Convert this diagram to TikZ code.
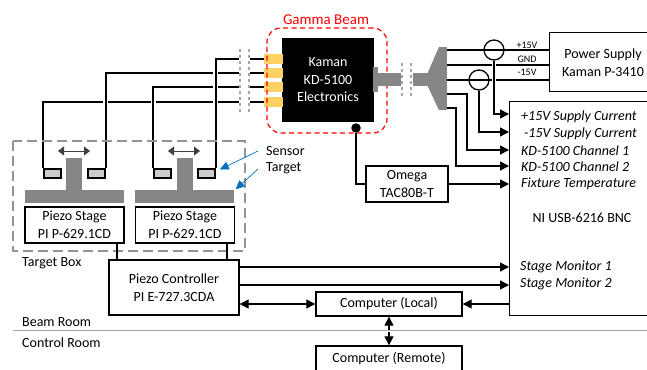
\documentclass[tikz,border=0pt]{standalone}
\usepackage{fontspec}
\setmainfont{Carlito}
\usetikzlibrary{positioning, arrows.meta, shapes.geometric, calc}
\definecolor{padorange}{HTML}{FFD163}
\definecolor{pointerblue}{HTML}{0070C0}
\begin{document}
\begin{tikzpicture}[
    x=1pt, y=-1pt,
    node distance=11pt,
    box/.style={rectangle, draw=black, line width=1.4pt, fill=white, inner sep=0pt, align=center, font=\fontsize{14}{17.5}\selectfont},
    stagebox/.style={box, minimum width=99pt, minimum height=36pt},
    plate/.style={rectangle, fill=gray!95, inner sep=0pt, minimum width=99pt, minimum height=13pt},
    post/.style={rectangle, fill=gray!95, inner sep=0pt, minimum width=16pt, minimum height=32pt},
    sensor/.style={rectangle, draw=black, line width=1.6pt, fill=gray!40, inner sep=0pt, minimum width=17pt, minimum height=9pt},
    pad/.style={rectangle, fill=padorange, inner sep=0pt, minimum width=19pt, minimum height=9.5pt},
    cable/.style={rectangle, fill=gray!95, inner sep=0pt},
    cut/.style={draw=gray!70, line width=2.8pt, dash pattern=on 3pt off 3pt},
    wire/.style={draw=black, line width=1.8pt, preaction={draw=white, line width=5pt}},
    plainwire/.style={draw=black, line width=1.8pt},
    sig/.style={draw=black, line width=1.3pt},
    sigarrow/.style={sig, -{Triangle[length=9pt, width=9pt]}},
    bothway/.style={sig, {Triangle[length=9pt, width=9pt]}-{Triangle[length=9pt, width=9pt]}},
    crossing/.style={sigarrow, preaction={draw=white, line width=4pt, arrows=-}},
    hoop/.style={circle, draw=black, line width=1.3pt, inner sep=0pt, minimum size=20pt},
    travel/.style={draw=black!75, line width=0.8pt, {Triangle[length=6pt, width=9pt]}-{Triangle[length=6pt, width=9pt]}},
    pointer/.style={draw=pointerblue, line width=0.7pt, -{Triangle[length=9pt, width=8pt]}},
    label/.style={inner sep=0pt, anchor=west, font=\fontsize{14}{17.5}\selectfont},
    channel/.style={inner sep=0pt, anchor=west, font=\fontsize{14}{17.5}\selectfont\itshape},
    volt/.style={inner sep=0pt, font=\fontsize{10}{11}\selectfont}
]
\useasboundingbox (0,0) rectangle (647,369);

\node[plate] (plateA) at (74.5,196) {};
\node[plate, right=of plateA] (plateB) {};
\node[post] (postA) at (74,174) {};
\node[post] (postB) at (184.5,174) {};
\node[stagebox, below=3.5pt of plateA] (stageA) {Piezo Stage\\PI P-629.1CD};
\node[stagebox, below=3.5pt of plateB] (stageB) {Piezo Stage\\PI P-629.1CD};
\node[sensor] (sensA) at (52.5,173.5) {};
\node[sensor] (sensB) at (96.5,173.5) {};
\node[sensor] (sensC) at (162.5,173.5) {};
\node[sensor] (sensD) at (206.5,173.5) {};
\node[box, minimum width=130pt, minimum height=55pt] (ctrl) at (174,287.5) {Piezo Controller\\PI E-727.3CDA};
\node[box, minimum width=146pt, minimum height=24pt] (local) at (389,304) {Computer (Local)};
\node[box, minimum width=146pt, minimum height=26pt] (remote) at (389,359) {Computer (Remote)};
\node[box, minimum width=160pt, minimum height=214pt, anchor=north west] (daq) at (509,101) {};
\node[font=\fontsize{14}{17.5}\selectfont, inner sep=0pt] (daqname) at (582,218) {NI USB-6216 BNC};
\node[box, minimum width=110pt, minimum height=59pt, anchor=north west] (psu) at (549,32) {};
\node[font=\fontsize{14}{17.5}\selectfont, align=center, inner sep=0pt] (psuname) at (603,62.5) {Power Supply\\Kaman P-3410};
\node[box, minimum width=82pt, minimum height=36pt] (omega) at (407,184) {Omega\\TAC80B-T};

\node[box, draw=none, fill=black, text=white, minimum width=92pt, minimum height=84pt] (kaman) at (328,80) {Kaman\\KD-5100\\Electronics};
\foreach \y/\n in {59/A, 73/B, 87/C, 102/D}
    \node[pad] (pad\n) at (273.5,\y) {};
\node[rectangle, draw=red, line width=1.2pt, dash pattern=on 5pt off 3.5pt, rounded corners=14pt, minimum width=120pt, minimum height=105pt] (beam) at (327,80.5) {};
\node[text=red, inner sep=0pt, font=\fontsize{15}{17.5}\selectfont] (beamname) at (326,20) {Gamma Beam};
\node[circle, fill=black, inner sep=0pt, minimum size=9.5pt] (port) at (356,128) {};

\foreach \y/\n in {59/A, 73/B, 87/C, 102/D} {
    \coordinate (cut\n) at (239,\y);
    \coordinate (uncut\n) at (250,\y);
    \draw[plainwire] (uncut\n) -- (pad\n.west);
}
\draw[wire] (sensA.north west) |- (cutD);
\draw[wire] (sensB.north east) |- (cutB);
\draw[wire] (sensC.north west) |- (cutC);
\draw[wire] (sensD.north east) |- (cutA);
\foreach \x/\n in {240/L, 249/R} {
    \coordinate (top\n) at (\x,49);
    \coordinate (bot\n) at (\x,112);
    \draw[cut] (top\n) -- (bot\n);
}

\draw[travel] (58,151) -- (90,151);
\draw[travel] (168,151) -- (200,151);

\draw[draw=gray!85, line width=1.1pt, dash pattern=on 10pt off 5pt] (13,141) rectangle (245,251);
\node[label] (targetname) at (22,263.5) {Target Box};
\node[label] (sensorname) at (266,151) {Sensor};
\node[label] (targetlabel) at (266,168) {Target};
\coordinate (sensortail) at (258,151);
\coordinate (targettail) at (258,169);
\draw[pointer] (sensortail) -- ([xshift=4pt, yshift=4pt]sensD.east);
\draw[pointer] (targettail) -- ([xshift=1pt]plateB.north east);

\node[cable, minimum width=5pt, minimum height=25pt] (plug) at (375.5,79.5) {};
\node[cable, minimum width=23pt, minimum height=13pt, right=0pt of plug] (barA) {};
\node[cable, minimum width=15pt, minimum height=13pt] (barB) at (420,79.5) {};
\node[cable, minimum width=8pt, minimum height=63pt, anchor=west] (fan) at (439,78.5) {};
\fill[gray!95] (barB.north east) -- (fan.north west) -- (fan.south west) -- (barB.south east) -- cycle;
\foreach \x/\n in {402/L, 411/R} {
    \coordinate (plugtop\n) at (\x,63);
    \coordinate (plugbot\n) at (\x,97);
    \draw[cut] (plugtop\n) -- (plugbot\n);
}

\coordinate (psuP) at (549,50);
\coordinate (psuG) at (549,65);
\coordinate (psuN) at (549,80);
\draw[sig] (psuP -| fan.east) -- (psuP);
\draw[sig] (psuG -| fan.east) -- (psuG);
\draw[sig] (psuN -| fan.east) -- (psuN);
\node[volt] (voltP) at (527,45) {+15V};
\node[volt] (voltG) at (527,59) {GND};
\node[volt] (voltN) at (527,72.5) {-15V};
\node[hoop] (hoopP) at (494,50) {};
\node[hoop] (hoopN) at (479,80) {};

\foreach \y/\n in {114/A, 132/B, 150/C, 166/D, 184/E, 267/F, 285/G, 304/H}
    \coordinate (in\n) at (509,\y);
\draw[crossing] (hoopP.south) |- (inA);
\draw[sigarrow] (hoopN.south) |- (inB);
\coordinate (outC) at (447,94);
\coordinate (outD) at (447,108);
\draw[sigarrow] (outC) -| (467,150) -- (inC);
\draw[sigarrow] (outD) -| (456,166) -- (inD);
\draw[sigarrow] (omega.east) -- (inE);
\draw[sig] (port.south) |- (omega.west);
\node[channel] (chA) at (521,116.5) {+15V Supply Current};
\node[channel] (chB) at (524,133.5) {-15V Supply Current};
\node[channel] (chC) at (521,150.5) {KD-5100 Channel 1};
\node[channel] (chD) at (521,167) {KD-5100 Channel 2};
\node[channel] (chE) at (521,184) {Fixture Temperature};
\node[channel] (chF) at (520,267) {Stage Monitor 1};
\node[channel] (chG) at (520,284) {Stage Monitor 2};

\coordinate (stageAout) at (117,242);
\coordinate (stageBout) at (227,242);
\draw[sig] (stageAout) -- (stageAout |- ctrl.north);
\draw[sig] (stageBout) -- (stageBout |- ctrl.north);
\draw[sigarrow] (inF -| ctrl.east) -- (inF);
\draw[sigarrow] (inG -| ctrl.east) -- (inG);
\draw[bothway] (ctrl.east |- local.west) -- (local.west);
\draw[sigarrow] (inH) -- (local.east);
\draw[bothway] (local.south) -- (remote.north);

\node[label] (beamroom) at (22,322.5) {Beam Room};
\node[label] (controlroom) at (22,342.5) {Control Room};
\coordinate (lineleft) at (13,331);
\coordinate (lineright) at (647,331);
\draw[draw=gray!70, line width=2.4pt] (lineleft) -- (lineright);
\draw[draw=white, line width=0.8pt] (lineleft) -- (lineright);
\end{tikzpicture}
\end{document}
